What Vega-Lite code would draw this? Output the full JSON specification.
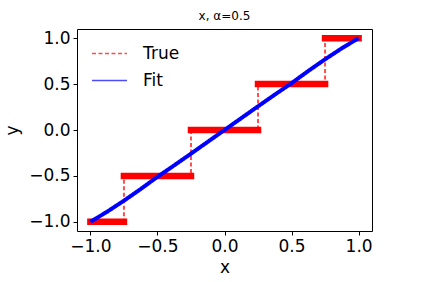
{
  "$schema": "https://vega.github.io/schema/vega-lite/v6.json",
  "width": 295,
  "height": 202,
  "autosize": {"type": "none"},
  "padding": {"left": 77, "top": 29, "right": 51, "bottom": 51},
  "background": "white",
  "title": {"text": "x, α=0.5", "fontSize": 12, "font": "DejaVu Sans", "fontWeight": "normal", "color": "black", "offset": 6, "anchor": "middle"},
  "config": {
    "view": {"stroke": "black", "strokeWidth": 1},
    "axis": {
      "domain": false, "grid": false, "ticks": true, "tickColor": "black", "tickSize": 4, "tickWidth": 1,
      "labelFont": "DejaVu Sans", "labelFontSize": 17, "labelColor": "black", "labelPadding": 3,
      "titleFont": "DejaVu Sans", "titleFontSize": 17, "titleFontWeight": "normal", "titleColor": "black"
    },
    "legend": {
      "orient": "none", "legendX": 14, "legendY": 6, "title": null, "padding": 0,
      "labelFont": "DejaVu Sans", "labelFontSize": 17, "labelColor": "black", "labelOffset": 15,
      "symbolType": "stroke", "symbolSize": 1225, "symbolStrokeWidth": 1.5, "rowPadding": -1.5
    }
  },
  "datasets": {
    "lines": [
      {"series": "True", "x": -1, "y": -1},
      {"series": "True", "x": -0.75, "y": -1},
      {"series": "True", "x": -0.75, "y": -0.5},
      {"series": "True", "x": -0.25, "y": -0.5},
      {"series": "True", "x": -0.25, "y": 0},
      {"series": "True", "x": 0.25, "y": 0},
      {"series": "True", "x": 0.25, "y": 0.5},
      {"series": "True", "x": 0.75, "y": 0.5},
      {"series": "True", "x": 0.75, "y": 1},
      {"series": "True", "x": 1, "y": 1},
      {"series": "Fit", "x": -1, "y": -1},
      {"series": "Fit", "x": -0.875, "y": -0.89},
      {"series": "Fit", "x": -0.75, "y": -0.77},
      {"series": "Fit", "x": -0.625, "y": -0.643},
      {"series": "Fit", "x": -0.5, "y": -0.51},
      {"series": "Fit", "x": -0.375, "y": -0.385},
      {"series": "Fit", "x": -0.25, "y": -0.258},
      {"series": "Fit", "x": -0.125, "y": -0.129},
      {"series": "Fit", "x": 0, "y": 0},
      {"series": "Fit", "x": 0.125, "y": 0.129},
      {"series": "Fit", "x": 0.25, "y": 0.258},
      {"series": "Fit", "x": 0.375, "y": 0.385},
      {"series": "Fit", "x": 0.5, "y": 0.51},
      {"series": "Fit", "x": 0.625, "y": 0.643},
      {"series": "Fit", "x": 0.75, "y": 0.77},
      {"series": "Fit", "x": 0.875, "y": 0.89},
      {"series": "Fit", "x": 1, "y": 1}
    ],
    "steps": [
      {"x": -1, "x2": -0.75, "y": -1},
      {"x": -0.75, "x2": -0.25, "y": -0.5},
      {"x": -0.25, "x2": 0.25, "y": 0},
      {"x": 0.25, "x2": 0.75, "y": 0.5},
      {"x": 0.75, "x2": 1, "y": 1}
    ]
  },
  "layer": [
    {
      "data": {"name": "lines"},
      "transform": [{"filter": "datum.series === 'True'"}],
      "mark": {"type": "line", "strokeWidth": 2, "opacity": 0.7},
      "encoding": {
        "x": {"field": "x", "type": "quantitative", "scale": {"domain": [-1.1, 1.1], "nice": false, "zero": false}, "axis": {"values": [-1, -0.5, 0, 0.5, 1], "format": ".1f", "title": "x", "titlePadding": 5}},
        "y": {"field": "y", "type": "quantitative", "scale": {"domain": [-1.1, 1.1], "nice": false, "zero": false}, "axis": {"values": [-1, -0.5, 0, 0.5, 1], "format": ".1f", "title": "y", "titlePadding": 7}},
        "color": {"field": "series", "type": "nominal", "scale": {"domain": ["True", "Fit"], "range": ["#ff0000", "#0000ff"]}},
        "strokeDash": {"field": "series", "type": "nominal", "scale": {"domain": ["True", "Fit"], "range": [[4, 2.5], [1, 0]]}}
      }
    },
    {
      "data": {"name": "steps"},
      "mark": {"type": "rule", "color": "#ff0000", "strokeWidth": 6.5, "strokeCap": "square"},
      "encoding": {
        "x": {"field": "x", "type": "quantitative"},
        "x2": {"field": "x2"},
        "y": {"field": "y", "type": "quantitative"}
      }
    },
    {
      "data": {"name": "lines"},
      "transform": [{"filter": "datum.series === 'Fit'"}],
      "mark": {"type": "line", "strokeWidth": 4},
      "encoding": {
        "x": {"field": "x", "type": "quantitative"},
        "y": {"field": "y", "type": "quantitative"},
        "color": {"field": "series", "type": "nominal"},
        "strokeDash": {"field": "series", "type": "nominal"}
      }
    }
  ]
}
